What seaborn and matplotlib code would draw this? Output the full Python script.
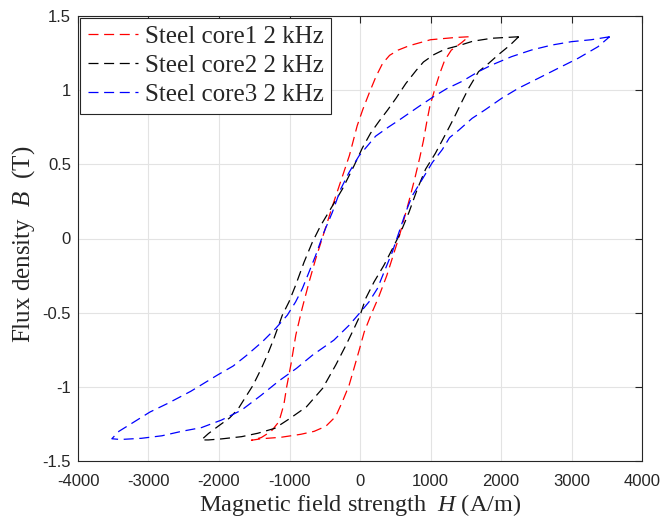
import matplotlib
matplotlib.use("Agg")
import matplotlib.pyplot as plt
import pandas as pd
import seaborn as sns
from matplotlib.font_manager import FontProperties

# Hysteresis loops, each as a descending branch (+tip -> -tip)
# followed by an ascending branch (-tip -> +tip).  H in A/m, B in T.
red_desc_H = [1540, 1350, 1000, 700, 540, 420, 320, 225, 130, 40, -40, -150, -270, -390,
              -510, -630, -720, -820, -910, -980, -1040, -1080, -1150, -1260, -1400, -1540]
red_desc_B = [1.36, 1.355, 1.34, 1.30, 1.27, 1.235, 1.18, 1.09, 0.98, 0.87, 0.76, 0.56, 0.39, 0.22,
              0.04, -0.14, -0.29, -0.47, -0.65, -0.85, -1.0, -1.12, -1.235, -1.30, -1.342, -1.36]
red_asc_H = [-1540, -1400, -1120, -840, -650, -485, -345, -250, -155, -85, -10, 60, 160, 260,
             380, 480, 560, 630, 710, 780, 850, 900, 945, 990, 1057, 1130, 1200, 1295, 1440, 1540]
red_asc_B = [-1.36, -1.35, -1.34, -1.32, -1.30, -1.266, -1.20, -1.10, -0.99, -0.875, -0.75, -0.63,
             -0.51, -0.40, -0.25, -0.10, 0.02, 0.14, 0.28, 0.41, 0.55, 0.66, 0.78, 0.89, 1.0, 1.11,
             1.20, 1.27, 1.32, 1.36]

black_desc_H = [2250, 2060, 1870, 1600, 1400, 1200, 1050, 900, 800, 650, 510, 390, 270, 150, 33,
                -85, -250, -416, -558, -676, -794, -913, -1007, -1102, -1220, -1310, -1400,
                -1518, -1635, -1730, -1850, -2010, -2150, -2250]
black_desc_B = [1.36, 1.355, 1.35, 1.33, 1.30, 1.275, 1.24, 1.19, 1.135, 1.045, 0.945, 0.865, 0.79,
                0.71, 0.61, 0.49, 0.333, 0.2, 0.087, -0.025, -0.16, -0.315, -0.427, -0.517,
                -0.673, -0.78, -0.877, -0.99, -1.078, -1.15, -1.21, -1.265, -1.315, -1.358]
black_asc_H = [-2250, -2150, -1965, -1680, -1450, -1210, -1000, -760, -530, -344, -200, -85, 0,
               80, 199, 340, 459, 577, 695, 813, 931, 1070, 1210, 1330, 1447, 1541, 1682, 1823,
               1965, 2129, 2250]
black_asc_B = [-1.358, -1.358, -1.351, -1.336, -1.313, -1.28, -1.215, -1.135, -1.01, -0.853, -0.72,
               -0.607, -0.52, -0.405, -0.293, -0.18, -0.07, 0.042, 0.177, 0.333, 0.468, 0.575,
               0.70, 0.81, 0.924, 1.013, 1.125, 1.18, 1.24, 1.304, 1.36]

blue_desc_H = [3540, 3280, 3000, 2720, 2435, 2150, 1870, 1680, 1450, 1230, 1040, 835, 560, 400,
               222, -14, -156, -274, -392, -511, -629, -723, -818, -913, -1031, -1196, -1385,
               -1614, -1800, -2020, -2400, -2720, -2980, -3250, -3420, -3520]
blue_desc_B = [1.36, 1.34, 1.327, 1.304, 1.271, 1.226, 1.17, 1.125, 1.06, 1.01, 0.955, 0.89, 0.80,
               0.75, 0.69, 0.557, 0.445, 0.333, 0.177, 0.043, -0.114, -0.226, -0.338, -0.427,
               -0.517, -0.606, -0.696, -0.79, -0.86, -0.92, -1.03, -1.11, -1.17, -1.25, -1.30, -1.35]
blue_asc_H = [-3520, -3400, -3100, -2810, -2530, -2250, -1965, -1680, -1400, -1150, -900, -673,
              -370, -155, 0, 128, 246, 364, 459, 553, 648, 742, 884, 1026, 1168, 1270, 1400, 1590,
              1776, 2012, 2247, 2529, 2812, 3094, 3376, 3540]
blue_asc_B = [-1.35, -1.355, -1.347, -1.33, -1.30, -1.275, -1.224, -1.157, -1.056, -0.96, -0.875,
              -0.786, -0.685, -0.585, -0.50, -0.427, -0.338, -0.2, -0.09, 0.042, 0.177, 0.289,
              0.40, 0.512, 0.60, 0.68, 0.73, 0.81, 0.868, 0.946, 1.013, 1.08, 1.148, 1.215,
              1.293, 1.36]

series_labels = ["Steel core1 2 kHz", "Steel core2 2 kHz", "Steel core3 2 kHz"]
series_colors = ["#ff0000", "#000000", "#0000ff"]
x_ticks = [-4000, -3000, -2000, -1000, 0, 1000, 2000, 3000, 4000]
y_ticks = [-1.5, -1, -0.5, 0, 0.5, 1, 1.5]
y_tick_labels = ["-1.5", "-1", "-0.5", "0", "0.5", "1", "1.5"]

loops = [
    (red_desc_H + red_asc_H, red_desc_B + red_asc_B),
    (black_desc_H + black_asc_H, black_desc_B + black_asc_B),
    (blue_desc_H + blue_asc_H, blue_desc_B + blue_asc_B),
]

sns.set_style("whitegrid")
plt.rcParams.update({
    "font.family": ["Liberation Sans", "DejaVu Sans"],
    "axes.unicode_minus": False,
    "mathtext.fontset": "custom",
    "mathtext.rm": "Liberation Serif",
    "mathtext.it": "Liberation Serif:italic",
})

fig = plt.figure(figsize=(6.63, 5.2), dpi=100)
ax = fig.add_axes([78 / 663, 59 / 520, 564 / 663, 445 / 520])

for (H, B), label, color in zip(loops, series_labels, series_colors):
    df = pd.DataFrame({"H": H, "B": B})
    sns.lineplot(data=df, x="H", y="B", sort=False, estimator=None, ax=ax,
                 color=color, linewidth=0.9, linestyle=(0, (8, 4.5)), label=label)

ax.set_xlim(-4000, 4000)
ax.set_ylim(-1.5, 1.5)
ax.set_xticks(x_ticks)
ax.set_xticklabels([str(t) for t in x_ticks])
ax.set_yticks(y_ticks)
ax.set_yticklabels(y_tick_labels)

ax.grid(True, color="#e3e3e3", linewidth=0.8)
ax.set_axisbelow(True)
for s in ax.spines.values():
    s.set_visible(True)
    s.set_color("#262626")
    s.set_linewidth(0.8)
ax.tick_params(direction="in", top=True, right=True, length=5, width=0.8,
               color="#262626", labelcolor="#262626", labelsize=12)
ax.tick_params(axis="x", pad=9)
ax.tick_params(axis="y", pad=5)

xfont = FontProperties(family="Liberation Serif", size=17.5)
yfont = FontProperties(family="Liberation Serif", size=18)
ax.set_xlabel("Magnetic field strength  $H$ (A/m)", fontproperties=xfont, color="#262626")
ax.set_ylabel("Flux density  $B$  (T)", fontproperties=yfont, color="#262626")
ax.xaxis.set_label_coords(0.5, -0.07)
ax.yaxis.set_label_coords(-0.073, 0.487)

leg = ax.legend(loc="upper left", prop=FontProperties(family="Liberation Serif", size=18),
                frameon=True, fancybox=False, edgecolor="#262626", framealpha=1,
                borderaxespad=0.08, handlelength=2.0, handletextpad=0.3,
                borderpad=0.3, labelspacing=0.26)
leg.get_frame().set_linewidth(0.8)

fig.savefig("out.png", dpi=100)
